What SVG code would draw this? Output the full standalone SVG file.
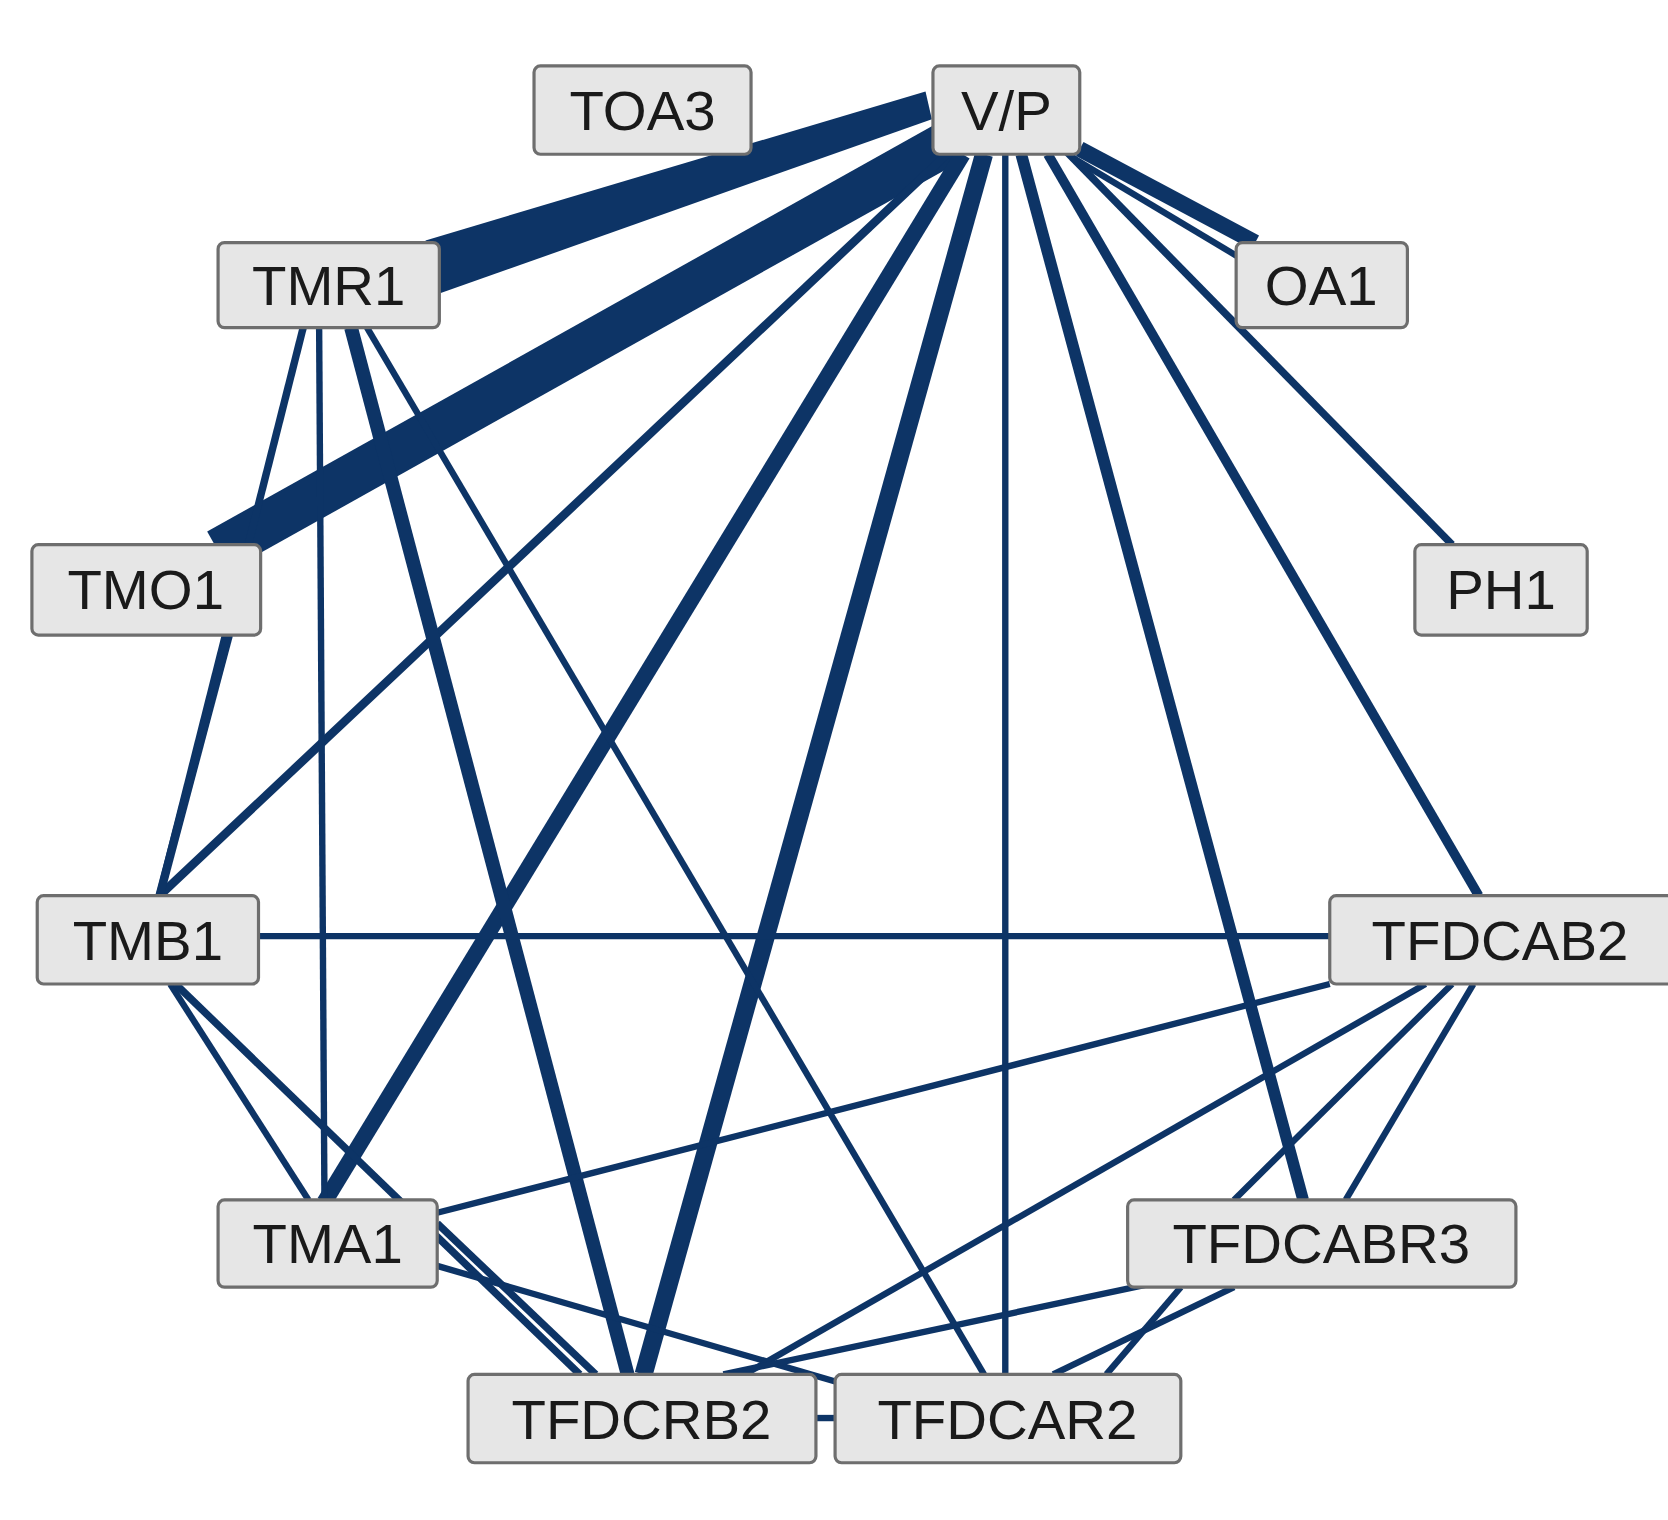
<svg xmlns="http://www.w3.org/2000/svg" width="1668" height="1520" viewBox="0 0 1668 1520">
<style>
.e{stroke:#0d3466;fill:none;stroke-linecap:butt}
.b{fill:#e6e6e6;stroke:#6e6e6e;stroke-width:3}
.t{font-family:"Liberation Sans",Arial,sans-serif;font-size:53px;fill:#1a1a1a;text-anchor:middle;dominant-baseline:central}
</style>
<rect width="1668" height="1520" fill="#fff"/>
<g transform="scale(1.0638)">
<g id="edges">
<polygon points="870,86 876,112 413,276 400,226" fill="#0d3466"/>
<line class="e" x1="895" y1="132" x2="205" y2="518" stroke-width="42"/>
<line class="e" x1="905" y1="145" x2="305" y2="1130" stroke-width="15"/>
<line class="e" x1="925" y1="145" x2="605" y2="1292" stroke-width="17"/>
<line class="e" x1="890" y1="145" x2="150" y2="842" stroke-width="8"/>
<line class="e" x1="945" y1="145" x2="945" y2="1292" stroke-width="6"/>
<line class="e" x1="960" y1="145" x2="1225" y2="1128" stroke-width="11"/>
<line class="e" x1="985" y1="145" x2="1390" y2="842" stroke-width="9"/>
<line class="e" x1="1000" y1="140" x2="1365" y2="512" stroke-width="7"/>
<line class="e" x1="1015" y1="140" x2="1180" y2="228" stroke-width="15"/>
<line class="e" x1="1008" y1="148" x2="1165" y2="242" stroke-width="6"/>
<line class="e" x1="285" y1="308" x2="150" y2="842" stroke-width="7"/>
<line class="e" x1="300" y1="308" x2="305" y2="1130" stroke-width="6"/>
<line class="e" x1="330" y1="308" x2="590" y2="1292" stroke-width="13"/>
<line class="e" x1="345" y1="308" x2="925" y2="1292" stroke-width="6"/>
<line class="e" x1="215" y1="597" x2="150" y2="842" stroke-width="8"/>
<line class="e" x1="243" y1="880" x2="1250" y2="880" stroke-width="6"/>
<line class="e" x1="160" y1="925" x2="290" y2="1128" stroke-width="6"/>
<line class="e" x1="165" y1="925" x2="545" y2="1292" stroke-width="7"/>
<line class="e" x1="411" y1="1140" x2="1250" y2="925" stroke-width="6"/>
<line class="e" x1="411" y1="1150" x2="560" y2="1292" stroke-width="7"/>
<line class="e" x1="411" y1="1190" x2="790" y2="1300" stroke-width="6"/>
<line class="e" x1="1340" y1="925" x2="700" y2="1292" stroke-width="6"/>
<line class="e" x1="1385" y1="925" x2="1265" y2="1128" stroke-width="6"/>
<line class="e" x1="1365" y1="925" x2="1160" y2="1128" stroke-width="6"/>
<line class="e" x1="1090" y1="1205" x2="680" y2="1292" stroke-width="6"/>
<line class="e" x1="1160" y1="1210" x2="990" y2="1292" stroke-width="6"/>
<line class="e" x1="1110" y1="1210" x2="1040" y2="1292" stroke-width="6"/>
<line class="e" x1="767" y1="1333" x2="785" y2="1333" stroke-width="6"/>
</g>
<g id="TOA3"><rect class="b" x="502" y="62" width="204" height="83" rx="6"/><text class="t" x="604" y="104">TOA3</text></g>
<g id="VP"><rect class="b" x="877" y="62" width="138" height="83" rx="6"/><text class="t" x="946" y="104">V/P</text></g>
<g id="TMR1"><rect class="b" x="205" y="228" width="208" height="80" rx="6"/><text class="t" x="309" y="268">TMR1</text></g>
<g id="OA1"><rect class="b" x="1162" y="228" width="161" height="80" rx="6"/><text class="t" x="1242" y="268">OA1</text></g>
<g id="TMO1"><rect class="b" x="30" y="512" width="215" height="85" rx="6"/><text class="t" x="137" y="554">TMO1</text></g>
<g id="PH1"><rect class="b" x="1330" y="512" width="162" height="85" rx="6"/><text class="t" x="1411" y="554">PH1</text></g>
<g id="TMB1"><rect class="b" x="35" y="842" width="208" height="83" rx="6"/><text class="t" x="139" y="884">TMB1</text></g>
<g id="TFDCAB2"><rect class="b" x="1250" y="842" width="330" height="83" rx="6"/><text class="t" x="1410" y="884">TFDCAB2</text></g>
<g id="TMA1"><rect class="b" x="205" y="1128" width="206" height="82" rx="6"/><text class="t" x="308" y="1169">TMA1</text></g>
<g id="TFDCABR3"><rect class="b" x="1060" y="1128" width="365" height="82" rx="6"/><text class="t" x="1242" y="1169">TFDCABR3</text></g>
<g id="TFDCRB2"><rect class="b" x="440" y="1292" width="327" height="83" rx="6"/><text class="t" x="603" y="1334">TFDCRB2</text></g>
<g id="TFDCAR2"><rect class="b" x="785" y="1292" width="325" height="83" rx="6"/><text class="t" x="947" y="1334">TFDCAR2</text></g>
</g>
</svg>
